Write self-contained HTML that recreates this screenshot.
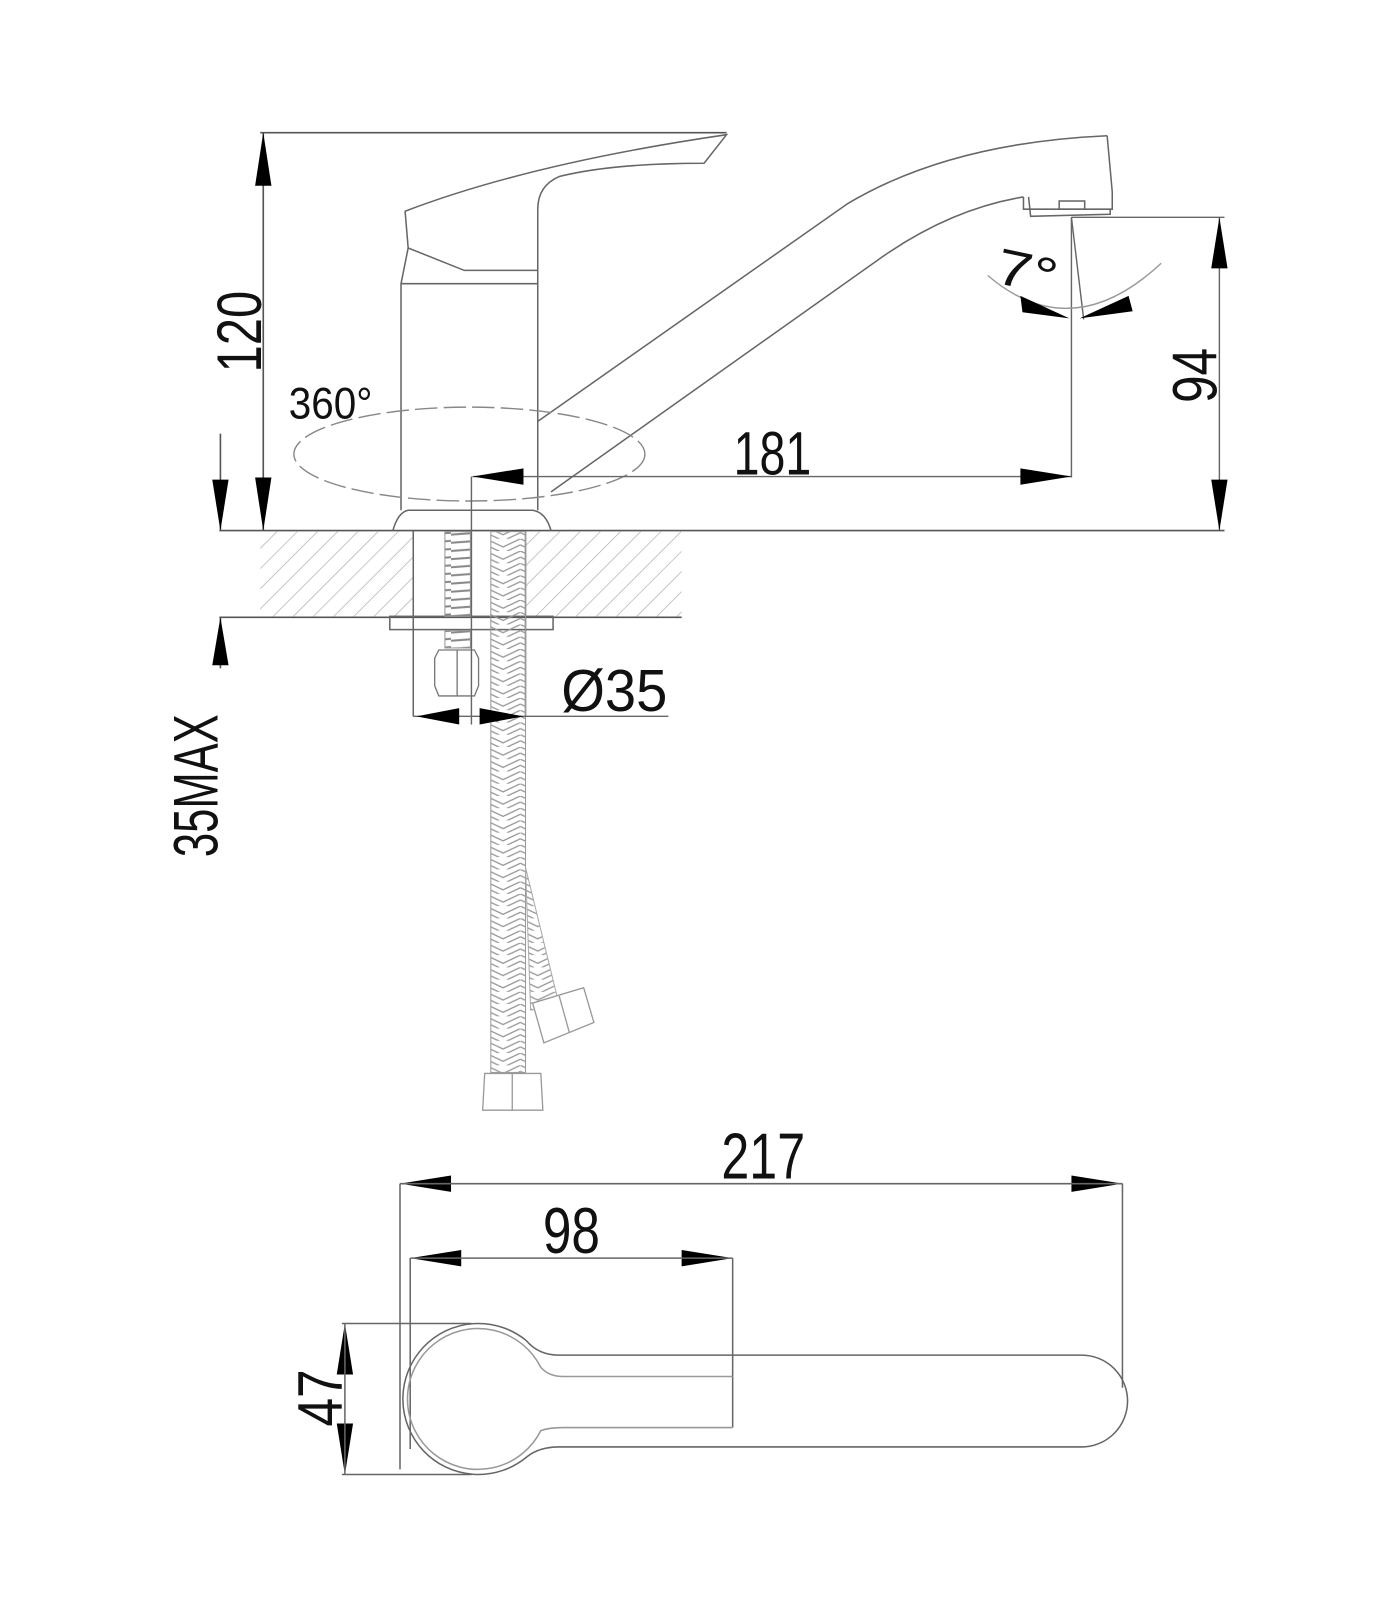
<!DOCTYPE html>
<html><head><meta charset="utf-8"><style>
html,body{margin:0;padding:0;background:#fff;}
svg{display:block;}
text{font-family:"Liberation Sans",sans-serif;fill:#111;}
</style></head><body>
<svg width="1400" height="1600" viewBox="0 0 1372 1568" xmlns="http://www.w3.org/2000/svg">
<defs>
<pattern id="hatch" width="14" height="14" patternUnits="userSpaceOnUse" patternTransform="rotate(45)">
<line x1="0" y1="0" x2="0" y2="14" stroke="#aaa" stroke-width="1.3"/>
</pattern>
<pattern id="braid" width="34" height="12" patternUnits="userSpaceOnUse">
<path d="M0,0 L17,8 L34,0 M0,6 L17,14 L34,6" stroke="#999" stroke-width="1.3" fill="none"/>
</pattern>
<pattern id="thread" width="26" height="8" patternUnits="userSpaceOnUse">
<line x1="0" y1="4" x2="26" y2="2" stroke="#888" stroke-width="2"/>
</pattern>
</defs>
<g fill="none" stroke="#555" stroke-width="1.6">
<line x1="255" y1="130" x2="712" y2="130"/>
<line x1="258" y1="130" x2="258" y2="520"/>
<line x1="215" y1="520" x2="1200" y2="520"/>
<line x1="215" y1="605" x2="668" y2="605"/>
<line x1="216" y1="425" x2="216" y2="520"/>
<line x1="216" y1="605" x2="216" y2="655"/>
</g>
<rect x="255" y="521" width="150" height="83" fill="url(#hatch)"/>
<rect x="515" y="521" width="153" height="83" fill="url(#hatch)"/>
<g fill="none" stroke="#666" stroke-width="1.5">
<path d="M397,207 Q 520,160 712,132 L 690,160 Q 600,160 548,173 Q 527,182 527,205 L527,265 L455,265 L400,243 Z"/>
<path d="M400,243 L393,278 L393,500"/>
<line x1="527" y1="265" x2="527" y2="500"/>
<line x1="393" y1="278" x2="527" y2="278"/>
<path d="M385,520 Q 390,502 400,500 L 522,500 Q 535,502 540,520"/>
<path d="M527,413 L 830,200 Q 930,140 1085,133"/>
<path d="M540,482 L 860,255 Q 930,205 1003,193"/>
<path d="M1085,133 L1090,188 L1090,205 L1003,205 L1003,193"/>
<path d="M1008,193 L1010,212 L1088,210 L1088,205"/>
<rect x="1038" y="197" width="25" height="8"/>
<line x1="405" y1="520" x2="405" y2="702"/>
<line x1="515" y1="520" x2="515" y2="702"/>
<rect x="382" y="604" width="160" height="13"/>
</g>
<ellipse cx="460" cy="445" rx="172" ry="46" fill="none" stroke="#888" stroke-width="1.4" stroke-dasharray="22 6"/>
<rect x="436" y="521" width="25" height="83" fill="url(#thread)" stroke="#999" stroke-width="1"/>
<rect x="436" y="618" width="25" height="17" fill="url(#thread)" stroke="#999" stroke-width="1"/>
<g fill="none" stroke="#777" stroke-width="1.3">
<path d="M430,637 L465,637 L469,645 L469,672 L465,682 L430,682 L426,672 L426,645 Z"/>
<line x1="448" y1="637" x2="448" y2="682"/>
</g>
<rect x="481" y="521" width="34" height="530" fill="url(#braid)" stroke="#999" stroke-width="1"/>
<path d="M515,850 L520,990 L548,985 Z" fill="url(#braid)" stroke="#aaa" stroke-width="1"/>
<g fill="#fff" stroke="#999" stroke-width="1.3">
<path d="M475,1052 L530,1052 L532,1088 L473,1088 Z"/>
<line x1="502" y1="1052" x2="502" y2="1088"/>
<path d="M522,983 L572,968 L582,1002 L533,1022 Z"/>
<line x1="548" y1="976" x2="558" y2="1012"/>
</g>
<g fill="none" stroke="#666" stroke-width="1.4">
<line x1="1050" y1="213" x2="1050" y2="468"/>
<line x1="1050" y1="213" x2="1062" y2="313"/>
<line x1="1050" y1="213" x2="1200" y2="213"/>
<path d="M968,270 Q 1050,340 1138,258" stroke="#999"/>
<line x1="1195" y1="213" x2="1195" y2="520"/>
<line x1="463" y1="467" x2="1050" y2="467"/>
<line x1="462" y1="467" x2="462" y2="710"/>
<line x1="405" y1="702" x2="655" y2="702"/>
</g>
<g fill="#000">
<path d="M258,130 L250,182 L266,182 Z"/>
<path d="M258,520 L250,468 L266,468 Z"/>
<path d="M216,520 L208,470 L224,470 Z"/>
<path d="M216,605 L208,652 L224,652 Z"/>
<path d="M1048,312 L1000,290 L1002,306 Z"/>
<path d="M1058,312 L1106,290 L1110,305 Z"/>
<path d="M1195,213 L1187,263 L1203,263 Z"/>
<path d="M1195,520 L1187,470 L1203,470 Z"/>
<path d="M463,467 L513,459 L513,475 Z"/>
<path d="M1050,467 L1000,459 L1000,475 Z"/>
<path d="M408,702 L450,694 L450,710 Z"/>
<path d="M513,702 L470,694 L470,710 Z"/>
<path d="M392,1160 L442,1152 L442,1168 Z"/>
<path d="M1100,1160 L1050,1152 L1050,1168 Z"/>
<path d="M402,1233 L452,1225 L452,1241 Z"/>
<path d="M718,1233 L668,1225 L668,1241 Z"/>
<path d="M338,1297 L330,1347 L346,1347 Z"/>
<path d="M338,1445 L330,1395 L346,1395 Z"/>
</g>
<g fill="none" stroke="#666" stroke-width="1.5">
<line x1="392" y1="1160" x2="1100" y2="1160"/>
<line x1="392" y1="1160" x2="392" y2="1440"/>
<line x1="1100" y1="1160" x2="1100" y2="1360"/>
<line x1="402" y1="1233" x2="718" y2="1233"/>
<line x1="402" y1="1233" x2="402" y2="1420"/>
<line x1="718" y1="1233" x2="718" y2="1399"/>
<line x1="338" y1="1297" x2="338" y2="1445"/>
<line x1="335" y1="1297" x2="462" y2="1297"/>
<line x1="335" y1="1445" x2="462" y2="1445"/>
<path d="M1060,1328 L548,1328 Q 528,1328 516,1314 A 74 74 0 1 0 516,1428 Q 528,1418 548,1418 L1060,1418 A 45 45 0 0 0 1060,1328 Z"/>
<path d="M718,1349 L552,1349 Q 538,1349 530,1340 A 69 69 0 1 0 530,1402 Q 538,1399 552,1399 L718,1399" stroke="#999"/>
</g>
<text x="757" y="465" font-size="60" text-anchor="middle" textLength="76" lengthAdjust="spacingAndGlyphs">181</text>
<text x="324" y="410" font-size="44" text-anchor="middle" textLength="82" lengthAdjust="spacingAndGlyphs">360°</text>
<text x="602" y="697" font-size="58" text-anchor="middle" textLength="104" lengthAdjust="spacingAndGlyphs">Ø35</text>
<text transform="translate(256,325) rotate(-90)" font-size="62" text-anchor="middle" textLength="80" lengthAdjust="spacingAndGlyphs">120</text>
<text transform="translate(1192,368) rotate(-90)" font-size="62" text-anchor="middle" textLength="54" lengthAdjust="spacingAndGlyphs">94</text>
<text transform="translate(213,770) rotate(-90)" font-size="62" text-anchor="middle" textLength="140" lengthAdjust="spacingAndGlyphs">35MAX</text>
<text transform="translate(335,1370) rotate(-90)" font-size="62" text-anchor="middle" textLength="56" lengthAdjust="spacingAndGlyphs">47</text>
<text transform="translate(1003,283) rotate(12)" font-size="50" text-anchor="middle" textLength="60" lengthAdjust="spacingAndGlyphs">7°</text>
<text x="748" y="1155" font-size="64" text-anchor="middle" textLength="82" lengthAdjust="spacingAndGlyphs">217</text>
<text x="560" y="1228" font-size="64" text-anchor="middle" textLength="56" lengthAdjust="spacingAndGlyphs">98</text>
</svg>
</body></html>
